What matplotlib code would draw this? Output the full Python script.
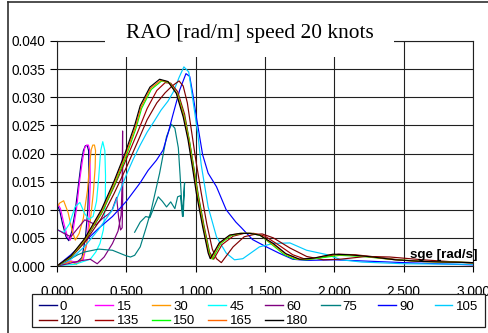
"""Pitch RAO against encounter frequency for every heading, 20 knots."""

import matplotlib

matplotlib.use("Agg")
import matplotlib.pyplot as plt
from matplotlib.lines import Line2D
from matplotlib.patches import Rectangle

FIG_W, FIG_H = 489, 333

# heading 0 (following seas) - folds back at the encounter-frequency limit
freq_000 = [0.0, 0.05, 0.1, 0.14, 0.18, 0.205, 0.222, 0.23, 0.228, 0.218, 0.205, 0.19,
            0.175, 0.155, 0.13, 0.105, 0.085, 0.065, 0.04, 0.02, 0.0]
rao_000 = [0.0, 0.0005, 0.0008, 0.0005, 0.0015, 0.005, 0.010, 0.016, 0.0205, 0.0214,
           0.0214, 0.0205, 0.0185, 0.0145, 0.0095, 0.006, 0.0045, 0.0052, 0.0075, 0.0098, 0.011]

freq_015 = [0.0, 0.05, 0.1, 0.15, 0.19, 0.215, 0.232, 0.24, 0.237, 0.226, 0.213, 0.2,
            0.185, 0.165, 0.14, 0.115, 0.095, 0.075, 0.05, 0.025, 0.0]
rao_015 = [0.0, 0.0006, 0.0009, 0.0006, 0.0012, 0.004, 0.009, 0.015, 0.0205, 0.0215,
           0.0215, 0.021, 0.019, 0.0155, 0.010, 0.0062, 0.0046, 0.0052, 0.0075, 0.0102, 0.0113]

freq_030 = [0.0, 0.05, 0.1, 0.14, 0.18, 0.21, 0.24, 0.262, 0.275, 0.278, 0.27, 0.258,
            0.247, 0.235, 0.22, 0.19, 0.16, 0.132, 0.11, 0.08, 0.048, 0.02, 0.0]
rao_030 = [0.0, 0.0004, 0.0008, 0.0003, 0.0012, 0.0035, 0.008, 0.013, 0.0175, 0.0205,
           0.0215, 0.0215, 0.0207, 0.018, 0.0135, 0.0085, 0.0058, 0.0046, 0.0062, 0.0095,
           0.0116, 0.0112, 0.0105]

freq_045 = [0.0, 0.07, 0.13, 0.19, 0.24, 0.28, 0.31, 0.335, 0.348, 0.35, 0.345, 0.33,
            0.315, 0.3, 0.285, 0.26, 0.23, 0.2, 0.165, 0.13, 0.09, 0.05, 0.02, 0.0]
rao_045 = [0.0, 0.0002, 0.0003, 0.0008, 0.0012, 0.0025, 0.004, 0.0065, 0.011, 0.016,
           0.0205, 0.0221, 0.0205, 0.0155, 0.0115, 0.0088, 0.0083, 0.0093, 0.0113, 0.0105,
           0.0075, 0.006, 0.0062, 0.0065]

freq_060 = [0.0, 0.08, 0.16, 0.24, 0.29, 0.34, 0.4, 0.44, 0.462, 0.47, 0.473, 0.474,
            0.47, 0.458, 0.445, 0.43, 0.415, 0.395, 0.37, 0.33, 0.28, 0.24, 0.2, 0.15,
            0.1, 0.05, 0.0]
rao_060 = [0.0, 0.0004, 0.0009, 0.0012, 0.0004, 0.0016, 0.004, 0.0062, 0.009, 0.015,
           0.024, 0.0125, 0.0068, 0.0064, 0.0085, 0.0122, 0.0112, 0.0098, 0.0092, 0.0085,
           0.0073, 0.0078, 0.0082, 0.0067, 0.0052, 0.0058, 0.0065]

freq_075 = [0.0, 0.05, 0.1, 0.15, 0.2, 0.3, 0.4, 0.45, 0.5, 0.53, 0.56, 0.6, 0.645,
            0.68, 0.74, 0.79, 0.825, 0.85, 0.875, 0.888, 0.9, 0.91, 0.92, 0.915, 0.905,
            0.89, 0.87, 0.85, 0.82, 0.79, 0.76, 0.73, 0.7, 0.67, 0.64, 0.6, 0.56]
rao_075 = [0.0, 0.0006, 0.0013, 0.002, 0.0025, 0.003, 0.0028, 0.0023, 0.0018, 0.0016,
           0.0019, 0.0034, 0.007, 0.010, 0.0165, 0.023, 0.0252, 0.0245, 0.021, 0.016,
           0.011, 0.0088, 0.0148, 0.0128, 0.0088, 0.0125, 0.0123, 0.0102, 0.0114, 0.0105,
           0.0115, 0.0123, 0.0105, 0.0086, 0.0088, 0.0078, 0.006]

freq_090 = [0.0, 0.1, 0.2, 0.3, 0.4, 0.5, 0.6, 0.657, 0.717, 0.765, 0.8, 0.835, 0.885,
            0.93, 0.957, 0.98, 1.005, 1.05, 1.09, 1.15, 1.22, 1.29, 1.33, 1.41, 1.51,
            1.6, 1.7, 1.8, 2.0, 2.2, 2.5, 3.0]
rao_090 = [0.0, 0.002, 0.0043, 0.0067, 0.0088, 0.0115, 0.0148, 0.017, 0.0188, 0.0206,
           0.0235, 0.0268, 0.0313, 0.0342, 0.0337, 0.0305, 0.0265, 0.0198, 0.0165, 0.0141,
           0.010, 0.0078, 0.0068, 0.0047, 0.0034, 0.0023, 0.0012, 0.001, 0.0011, 0.0009,
           0.0006, 0.0002]

freq_105 = [0.0, 0.1, 0.2, 0.3, 0.4, 0.5, 0.55, 0.6, 0.65, 0.7, 0.75, 0.8, 0.84, 0.88,
            0.915, 0.95, 0.98, 1.015, 1.04, 1.09, 1.15, 1.22, 1.28, 1.34, 1.46, 1.56,
            1.68, 1.8, 1.95, 2.05, 2.2, 2.5, 3.0]
rao_105 = [0.0, 0.0012, 0.0035, 0.0065, 0.010, 0.0162, 0.019, 0.0215, 0.0238, 0.0257,
           0.0277, 0.0293, 0.031, 0.0335, 0.0354, 0.0345, 0.0295, 0.0236, 0.018, 0.0105,
           0.0052, 0.0023, 0.0011, 0.0013, 0.0034, 0.004, 0.0041, 0.0028, 0.002, 0.0011,
           0.0007, 0.0004, 0.0003]

freq_120 = [0.0, 0.1, 0.2, 0.32, 0.41, 0.5, 0.58, 0.65, 0.72, 0.78, 0.83, 0.88, 0.91,
            0.94, 0.97, 1.0, 1.04, 1.08, 1.12, 1.15, 1.185, 1.27, 1.35, 1.42, 1.48, 1.56,
            1.68, 1.8, 1.92, 2.04, 2.23, 2.4, 2.64, 3.0]
rao_120 = [0.0, 0.0015, 0.0042, 0.0085, 0.0128, 0.0175, 0.022, 0.026, 0.029, 0.0308,
           0.032, 0.0329, 0.032, 0.029, 0.024, 0.019, 0.013, 0.0075, 0.003, 0.0013,
           0.0006, 0.0034, 0.0052, 0.0056, 0.0057, 0.005, 0.0032, 0.0017, 0.0011, 0.0012,
           0.0017, 0.0016, 0.0011, 0.0005]

freq_135 = [0.0, 0.1, 0.2, 0.32, 0.41, 0.5, 0.58, 0.65, 0.72, 0.78, 0.82, 0.87, 0.92,
            0.96, 0.99, 1.02, 1.06, 1.1, 1.13, 1.19, 1.27, 1.35, 1.42, 1.5, 1.6, 1.7,
            1.78, 1.9, 2.03, 2.15, 2.3, 2.5, 2.7, 3.0]
rao_135 = [0.0, 0.0016, 0.0045, 0.0093, 0.014, 0.019, 0.0237, 0.028, 0.0312, 0.0326,
           0.0325, 0.031, 0.027, 0.0215, 0.017, 0.0125, 0.0072, 0.0025, 0.0012, 0.0038,
           0.0053, 0.0058, 0.0058, 0.0053, 0.0037, 0.002, 0.0013, 0.0015, 0.0021, 0.002,
           0.0016, 0.001, 0.0008, 0.0006]

freq_150 = [0.0, 0.1, 0.2, 0.33, 0.42, 0.5, 0.57, 0.61, 0.68, 0.755, 0.81, 0.87, 0.92,
            0.955, 0.99, 1.015, 1.06, 1.1, 1.12, 1.18, 1.255, 1.33, 1.4, 1.47, 1.56, 1.64,
            1.72, 1.8, 1.92, 2.04, 2.2, 2.4, 2.64, 3.0]
rao_150 = [0.0, 0.0016, 0.0046, 0.0098, 0.0148, 0.0196, 0.0245, 0.028, 0.0314, 0.0329,
           0.0326, 0.0305, 0.0264, 0.0222, 0.0168, 0.0128, 0.0068, 0.0022, 0.0012, 0.004,
           0.0054, 0.0058, 0.0058, 0.0054, 0.0036, 0.002, 0.0012, 0.0011, 0.0015, 0.0019,
           0.0017, 0.0012, 0.0008, 0.0006]

freq_165 = [0.0, 0.1, 0.2, 0.325, 0.415, 0.495, 0.565, 0.605, 0.675, 0.748, 0.805, 0.865,
            0.915, 0.95, 0.985, 1.01, 1.055, 1.095, 1.112, 1.175, 1.25, 1.325, 1.395,
            1.465, 1.56, 1.65, 1.74, 1.84, 1.97, 2.1, 2.26, 2.44, 2.64, 3.0]
rao_165 = [0.0, 0.0017, 0.0047, 0.0099, 0.0149, 0.0198, 0.0247, 0.0282, 0.0316, 0.033,
           0.0327, 0.0306, 0.0265, 0.0223, 0.0169, 0.0128, 0.0069, 0.0022, 0.0013, 0.0041,
           0.0055, 0.0058, 0.0058, 0.0055, 0.0038, 0.0021, 0.0012, 0.0013, 0.002, 0.002,
           0.0016, 0.0011, 0.0008, 0.0006]

freq_180 = [0.0, 0.1, 0.2, 0.32, 0.41, 0.49, 0.56, 0.6, 0.67, 0.74, 0.8, 0.86, 0.91,
            0.945, 0.98, 1.005, 1.05, 1.09, 1.105, 1.17, 1.245, 1.32, 1.39, 1.46, 1.56,
            1.65, 1.75, 1.85, 1.99, 2.11, 2.28, 2.44, 2.64, 3.0]
rao_180 = [0.0, 0.0018, 0.0049, 0.010, 0.015, 0.020, 0.025, 0.0285, 0.0318, 0.0332,
           0.0328, 0.0307, 0.0265, 0.0224, 0.017, 0.0129, 0.007, 0.0023, 0.0013, 0.0041,
           0.0055, 0.0058, 0.0058, 0.0055, 0.004, 0.0022, 0.0012, 0.0014, 0.0021, 0.002,
           0.0016, 0.0011, 0.0008, 0.0006]

headings = ["0", "15", "30", "45", "60", "75", "90", "105",
            "120", "135", "150", "165", "180"]
colours = ["#000080", "#FF00FF", "#FF9900", "#00FFFF", "#800080", "#008080", "#0000FF",
           "#00CCFF", "#800000", "#A00000", "#00FF00", "#FF6600", "#000000"]
series = [(freq_000, rao_000), (freq_015, rao_015), (freq_030, rao_030),
          (freq_045, rao_045), (freq_060, rao_060), (freq_075, rao_075),
          (freq_090, rao_090), (freq_105, rao_105), (freq_120, rao_120),
          (freq_135, rao_135), (freq_150, rao_150), (freq_165, rao_165),
          (freq_180, rao_180)]

x_ticks = [0.0, 0.5, 1.0, 1.5, 2.0, 2.5, 3.0]
y_ticks = [0.0, 0.005, 0.010, 0.015, 0.020, 0.025, 0.030, 0.035, 0.040]


def fx(px):
    return px / FIG_W


def fy(py):
    return 1.0 - py / FIG_H


plt.rcParams["font.family"] = ["Liberation Sans", "DejaVu Sans"]

figure = plt.figure(figsize=(FIG_W / 100, FIG_H / 100), dpi=100)
axis = figure.add_axes([fx(57), fy(266), fx(473) - fx(57), fy(41) - fy(266)])

for (freq, rao), colour in zip(series, colours):
    axis.plot(freq, rao, color=colour, linewidth=0.85, solid_joinstyle="round")

axis.set_xlim(0, 3)
axis.set_ylim(0, 0.04)
axis.set_xticks(x_ticks)
axis.set_yticks(y_ticks)
axis.set_xticklabels([f"{v:.3f}" for v in x_ticks])
axis.set_yticklabels([f"{v:.3f}" for v in y_ticks])
axis.tick_params(axis="x", length=4, pad=9.5, labelsize=9.8, width=0.8)
axis.tick_params(axis="y", length=5, pad=3.5, labelsize=9.8, width=0.8)
axis.grid(True, color="#202020", linewidth=0.8)
axis.set_axisbelow(True)
for spine in axis.spines.values():
    spine.set_linewidth(0.8)
    spine.set_color("#202020")

axis.text(2.545, 0.0015, "sge [rad/s]", fontsize=9.6, fontweight="bold",
          ha="left", va="baseline", clip_on=False)

# white title panel hiding the top of the grid, as in the spreadsheet export
figure.add_artist(Rectangle((fx(105), fy(57)), fx(394) - fx(105), fy(3) - fy(57),
                            transform=figure.transFigure, facecolor="white",
                            edgecolor="none", zorder=5))
figure.text(fx(249.5), fy(38), "RAO [rad/m] speed 20 knots", family="Liberation Serif",
            fontsize=15.4, ha="center", va="baseline", zorder=6)

# outer chart frame (left and top edges are visible)
figure.add_artist(Line2D([fx(8), fx(8)], [0, fy(1.5)], transform=figure.transFigure,
                         color="#303030", linewidth=1.2, zorder=6))
figure.add_artist(Line2D([fx(8), 1], [fy(1.5), fy(1.5)], transform=figure.transFigure,
                         color="#303030", linewidth=1.2, zorder=6))

# legend laid out on a fixed column grid: 8 per row
figure.add_artist(Rectangle((fx(32), fy(327)), fx(485) - fx(32), fy(294) - fy(327),
                            transform=figure.transFigure, facecolor="white",
                            edgecolor="#202020", linewidth=0.9, zorder=5))
for index, (label, colour) in enumerate(zip(headings, colours)):
    row, column = divmod(index, 8)
    x0 = 39 + column * 56.5
    y0 = 305 + row * 15
    figure.add_artist(Line2D([fx(x0), fx(x0 + 18)], [fy(y0), fy(y0)],
                             transform=figure.transFigure, color=colour,
                             linewidth=1.0, zorder=6))
    figure.text(fx(x0 + 21), fy(y0), label, fontsize=9.5, ha="left", va="center_baseline",
                zorder=6)

figure.savefig("out.png", dpi=100)
plt.close(figure)
